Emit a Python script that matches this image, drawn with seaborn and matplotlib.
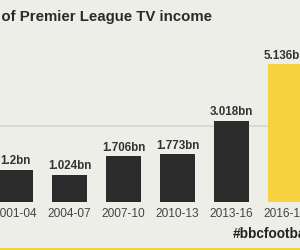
import matplotlib
matplotlib.use("Agg")
import matplotlib.pyplot as plt
import seaborn as sns
import pandas as pd
from matplotlib.patches import Rectangle

periods = ["2001-04", "2004-07", "2007-10", "2010-13", "2013-16", "2016-19"]
values = [1.2, 1.024, 1.706, 1.773, 3.018, 5.136]
value_labels = ["1.2bn", "1.024bn", "1.706bn", "1.773bn", "3.018bn", "5.136bn"]
title = "Growth of Premier League TV income"
hashtag = "#bbcfootball"

BG = "#eeeee9"
DARK = "#2b2b2b"
YELLOW = "#f5d23e"

sns.set_theme(style="white")
plt.rcParams["font.family"] = ["Liberation Sans", "DejaVu Sans"]

df = pd.DataFrame({"period": periods, "value": values})
palette = {p: DARK for p in periods}
palette[periods[-1]] = YELLOW

W, H = 300, 250
fig = plt.figure(figsize=(3, 2.5), dpi=100, facecolor=BG)

# px geometry
base_px = 202       # baseline from top
scale = 26.8        # px per bn
first_c = 15.5
step = 54
ax = fig.add_axes([0, (H - base_px) / H, 1, base_px / H])
ax.set_facecolor(BG)

# separator line behind bars
ax.axhline((base_px - 126) / scale, color="#d6d6d0", lw=1.2, zorder=0)

sns.barplot(data=df, x="period", y="value", hue="period", palette=palette,
            legend=False, width=35 / step, ax=ax, saturation=1, zorder=2,
            edgecolor="none", linewidth=0)

ax.set_xlim(-first_c / step, (W - first_c) / step)
ax.set_ylim(0, base_px / scale)

for i, (v, lab) in enumerate(zip(values, value_labels)):
    ax.annotate(lab, (i, v), xytext=(0, 4.1), textcoords="offset points",
                ha="center", va="baseline", fontsize=8.4, fontweight="bold",
                color="#333333")

ax.set_xlabel("")
ax.set_ylabel("")
ax.set_yticks([])
ax.tick_params(axis="x", length=0, pad=4, labelsize=8.6, labelcolor="#444444")
for s in ax.spines.values():
    s.set_visible(False)

fig.text(212 / W, 1 - 17 / H, title, ha="right", va="center",
         fontsize=10.8, fontweight="bold", color="#2a2a2a")
fig.text(233 / W, 1 - 234 / H, hashtag, ha="left", va="center",
         fontsize=9.8, fontweight="bold", color="#222222")

fig.patches.append(Rectangle((0, 0), 1, 2.5 / H, transform=fig.transFigure,
                             facecolor="#f3d23c", edgecolor="none"))

fig.savefig("out.png", dpi=100, facecolor=BG)
